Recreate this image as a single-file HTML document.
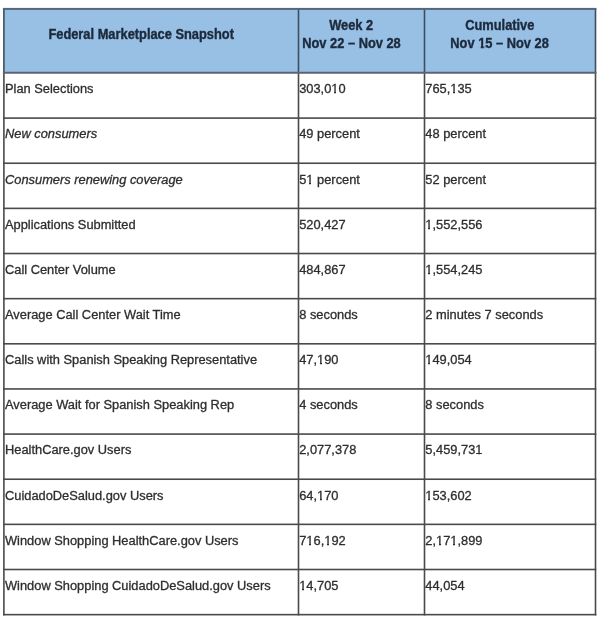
<!DOCTYPE html><html><head><meta charset="utf-8"><style>
html,body{margin:0;padding:0;background:#fff;width:600px;height:621px;overflow:hidden}
body{position:relative;font-family:"Liberation Sans",sans-serif;will-change:transform}
svg{position:absolute;left:0;top:0}
.t{position:absolute;white-space:pre;line-height:1;color:#2e2e2e;font-size:12.85px;-webkit-text-stroke:0.3px #2e2e2e}
.o{position:relative}.o::before,.o::after{content:"";position:absolute;background:#fff;bottom:1.6px;height:2.3px}.o::before{left:0.4px;width:2.65px}.o::after{left:4.62px;width:2.6px}
.ob{position:relative}.ob::before,.ob::after{content:"";position:absolute;background:rgb(152,192,229);bottom:1.7px;height:3.9px}.ob::before{left:0.4px;width:2.4px}.ob::after{left:5.5px;width:1.5px}
.h{position:absolute;white-space:pre;line-height:1;color:#1c2a3c;font-size:12.85px;font-weight:bold;-webkit-text-stroke:0.35px #1c2a3c}
</style></head><body>

<svg width="600" height="621" viewBox="0 0 600 621"><rect x="3.9" y="8.9" width="591.6" height="63.85" fill="rgb(152,192,229)"/><rect x="3.10" y="8.90" width="1.60" height="63.85" fill="#404d5e"/><rect x="3.10" y="72.75" width="1.60" height="542.69" fill="#4a4a4a"/><rect x="297.70" y="8.90" width="1.60" height="63.85" fill="#404d5e"/><rect x="297.70" y="72.75" width="1.60" height="542.69" fill="#4a4a4a"/><rect x="423.70" y="8.90" width="1.60" height="63.85" fill="#404d5e"/><rect x="423.70" y="72.75" width="1.60" height="542.69" fill="#4a4a4a"/><rect x="594.70" y="8.90" width="1.60" height="63.85" fill="#404d5e"/><rect x="594.70" y="72.75" width="1.60" height="542.69" fill="#4a4a4a"/><rect x="2.90" y="7.90" width="593.60" height="2.00" fill="#566578"/><rect x="2.90" y="71.75" width="593.60" height="2.00" fill="#5a6470"/><rect x="3.10" y="117.30" width="593.20" height="1.60" fill="#4a4a4a"/><rect x="3.10" y="162.44" width="593.20" height="1.60" fill="#4a4a4a"/><rect x="3.10" y="207.58" width="593.20" height="1.60" fill="#4a4a4a"/><rect x="3.10" y="252.72" width="593.20" height="1.60" fill="#4a4a4a"/><rect x="3.10" y="297.86" width="593.20" height="1.60" fill="#4a4a4a"/><rect x="3.10" y="343.00" width="593.20" height="1.60" fill="#4a4a4a"/><rect x="3.10" y="388.14" width="593.20" height="1.60" fill="#4a4a4a"/><rect x="3.10" y="433.28" width="593.20" height="1.60" fill="#4a4a4a"/><rect x="3.10" y="478.42" width="593.20" height="1.60" fill="#4a4a4a"/><rect x="3.10" y="523.56" width="593.20" height="1.60" fill="#4a4a4a"/><rect x="3.10" y="568.70" width="593.20" height="1.60" fill="#4a4a4a"/><rect x="3.10" y="613.84" width="593.20" height="1.60" fill="#4a4a4a"/></svg>
<div class="h" style="left:141.2px;top:29.32px;width:0"><span style="position:absolute;transform:translateX(-50%) scaleY(1.07);transform-origin:50% 85%">Federal Marketplace Snapshot</span></div>
<div class="h" style="left:351.2px;top:19.62px;width:0"><span style="position:absolute;transform:translateX(-50%) scaleY(1.07);transform-origin:50% 85%">Week 2</span></div>
<div class="h" style="left:351.5px;top:38.42px;width:0"><span style="position:absolute;transform:translateX(-50%) scaleY(1.07);transform-origin:50% 85%">Nov 22 – Nov 28</span></div>
<div class="h" style="left:499.8px;top:19.62px;width:0"><span style="position:absolute;transform:translateX(-50%) scaleY(1.07);transform-origin:50% 85%">Cumulative</span></div>
<div class="h" style="left:499.6px;top:38.42px;width:0"><span style="position:absolute;transform:translateX(-50%) scaleY(1.07);transform-origin:50% 85%">Nov <span class="ob">1</span>5 – Nov 28</span></div>
<div class="t" style="left:5.0px;top:83.07px">Plan Selections</div>
<div class="t" style="left:299.2px;top:83.07px">303,0<span class="o">1</span>0</div>
<div class="t" style="left:425.3px;top:83.07px">765,<span class="o">1</span>35</div>
<div class="t" style="left:5.0px;top:128.42px;font-style:italic">New consumers</div>
<div class="t" style="left:299.2px;top:128.42px">49 percent</div>
<div class="t" style="left:425.3px;top:128.42px">48 percent</div>
<div class="t" style="left:5.0px;top:173.56px;font-style:italic">Consumers renewing coverage</div>
<div class="t" style="left:299.2px;top:173.56px">5<span class="o">1</span> percent</div>
<div class="t" style="left:425.3px;top:173.56px">52 percent</div>
<div class="t" style="left:5.0px;top:218.70px">Applications Submitted</div>
<div class="t" style="left:299.2px;top:218.70px">520,427</div>
<div class="t" style="left:425.3px;top:218.70px"><span class="o">1</span>,552,556</div>
<div class="t" style="left:5.0px;top:263.84px">Call Center Volume</div>
<div class="t" style="left:299.2px;top:263.84px">484,867</div>
<div class="t" style="left:425.3px;top:263.84px"><span class="o">1</span>,554,245</div>
<div class="t" style="left:5.0px;top:308.98px">Average Call Center Wait Time</div>
<div class="t" style="left:299.2px;top:308.98px">8 seconds</div>
<div class="t" style="left:425.3px;top:308.98px">2 minutes 7 seconds</div>
<div class="t" style="left:5.0px;top:354.12px">Calls with Spanish Speaking Representative</div>
<div class="t" style="left:299.2px;top:354.12px">47,<span class="o">1</span>90</div>
<div class="t" style="left:425.3px;top:354.12px"><span class="o">1</span>49,054</div>
<div class="t" style="left:5.0px;top:399.26px">Average Wait for Spanish Speaking Rep</div>
<div class="t" style="left:299.2px;top:399.26px">4 seconds</div>
<div class="t" style="left:425.3px;top:399.26px">8 seconds</div>
<div class="t" style="left:5.0px;top:444.40px">HealthCare.gov Users</div>
<div class="t" style="left:299.2px;top:444.40px">2,077,378</div>
<div class="t" style="left:425.3px;top:444.40px">5,459,73<span class="o">1</span></div>
<div class="t" style="left:5.0px;top:489.54px">CuidadoDeSalud.gov Users</div>
<div class="t" style="left:299.2px;top:489.54px">64,<span class="o">1</span>70</div>
<div class="t" style="left:425.3px;top:489.54px"><span class="o">1</span>53,602</div>
<div class="t" style="left:5.0px;top:534.68px">Window Shopping HealthCare.gov Users</div>
<div class="t" style="left:299.2px;top:534.68px">7<span class="o">1</span>6,<span class="o">1</span>92</div>
<div class="t" style="left:425.3px;top:534.68px">2,<span class="o">1</span>7<span class="o">1</span>,899</div>
<div class="t" style="left:5.0px;top:579.82px">Window Shopping CuidadoDeSalud.gov Users</div>
<div class="t" style="left:299.2px;top:579.82px"><span class="o">1</span>4,705</div>
<div class="t" style="left:425.3px;top:579.82px">44,054</div>
</body></html>
